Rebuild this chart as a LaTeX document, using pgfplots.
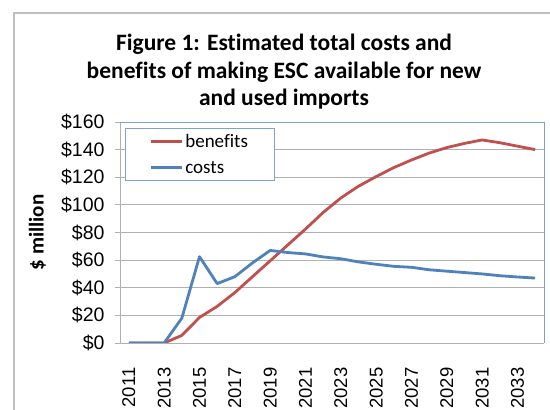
\documentclass[border=0pt]{standalone}
\usepackage{fontspec}
\setmainfont{Carlito}[Ligatures=NoCommon]
\newfontfamily\arialf{Liberation Sans}
\usepackage{pgfplots}
\pgfplotsset{compat=1.18}
\definecolor{benred}{HTML}{C0504D}
\definecolor{costblue}{HTML}{4F81BD}
\definecolor{legblue}{HTML}{7FA3D0}
\definecolor{gridgrey}{HTML}{B0B0B0}
\definecolor{framegrey}{HTML}{BFBFBF}

\begin{document}
\begin{tikzpicture}[x=1pt,y=1pt]
  \useasboundingbox (0,0) rectangle (550,410);
  % outer chart frame (runs off the right and bottom edges)
  \draw[framegrey, line width=1.2pt] (14,-10) -- (14,397) -- (570,397);
  \node[font=\bfseries\fontsize{23.5}{27.5}\selectfont, align=center]
    at (284,338) {Figure 1: Estimated total costs and\\
                  benefits of making ESC available for new\\
                  and used imports};
  \begin{axis}[
    at={(120pt,67pt)}, anchor=south west,
    scale only axis,
    width=424pt, height=221pt,
    xmin=2010.5, xmax=2034.5,
    ymin=0, ymax=160,
    xtick={2011,2013,...,2033},
    xticklabels={2011,2013,2015,2017,2019,2021,2023,2025,2027,2029,2031,2033},
    ytick={0,20,...,160},
    yticklabels={\$0,\$20,\$40,\$60,\$80,\$100,\$120,\$140,\$160},
    yticklabel style={font=\arialf\fontsize{19.5}{19.5}\selectfont},
    xticklabel style={font=\arialf\fontsize{18.5}{18.5}\selectfont,
                      rotate=90, anchor=east},
    xticklabel shift=16pt,
    yticklabel shift=7pt,
    x tick style={draw=none},
    y tick style={gridgrey, line width=0.9pt},
    tick align=outside,
    major tick length=5pt,
    axis x line*=bottom, axis y line*=left,
    axis line style={gridgrey, line width=0.9pt},
    ymajorgrids,
    major grid style={gridgrey, line width=0.9pt},
    ylabel={\$ million},
    ylabel style={font=\bfseries\fontsize{21}{21}\selectfont,
                  at={(axis description cs:-0.195,0.5)}, anchor=center},
    legend cell align=left,
    legend image code/.code={\draw[#1] (0pt,0pt) -- (31pt,0pt);},
    legend style={at={(0.012,0.973)}, anchor=north west,
                  draw=legblue, line width=0.9pt,
                  font=\fontsize{19}{19}\selectfont,
                  inner xsep=24pt, inner ysep=4pt,
                  row sep=8pt},
    every axis plot/.append style={line width=2.8pt, line join=round, no marks},
    after end axis/.code={
      \draw[costblue!75, line width=0.9pt]
        (rel axis cs:0,1) -- (rel axis cs:1,1) -- (rel axis cs:1,0);
    },
  ]
    \addplot[benred] coordinates {
      (2011,0) (2012,0) (2013,0) (2014,5.5) (2015,18.5) (2016,26.5)
      (2017,36.5) (2018,48) (2019,59.5) (2020,71) (2021,82.5) (2022,94.5)
      (2023,105) (2024,113.5) (2025,120.5) (2026,127) (2027,132.5)
      (2028,137.5) (2029,141.5) (2030,144.5) (2031,147) (2032,145)
      (2033,142.5) (2034,140)
    };
    \addlegendentry{benefits}
    \addplot[costblue] coordinates {
      (2011,0) (2012,0) (2013,0) (2014,18) (2015,62.5) (2016,43)
      (2017,48) (2018,58) (2019,67) (2020,65.5) (2021,64.5) (2022,62.3)
      (2023,61) (2024,58.7) (2025,57) (2026,55.5) (2027,54.8) (2028,53)
      (2029,52) (2030,51) (2031,50) (2032,48.7) (2033,47.8) (2034,47)
    };
    \addlegendentry{costs}
  \end{axis}
\end{tikzpicture}
\end{document}
